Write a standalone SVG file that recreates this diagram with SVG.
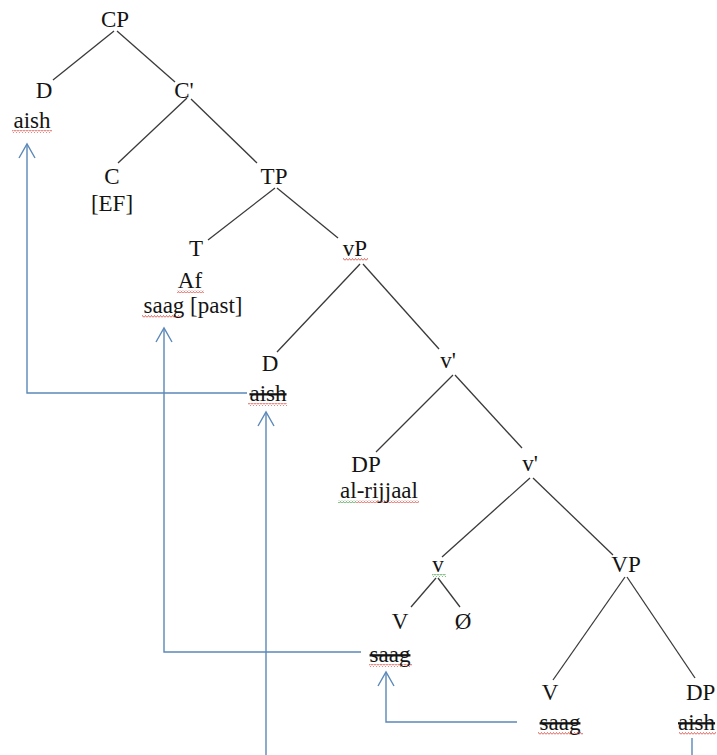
<svg xmlns="http://www.w3.org/2000/svg" width="717" height="755" viewBox="0 0 717 755">
<style>
text{font-family:'Liberation Serif','Times New Roman',serif;font-size:23px;fill:#141414;text-anchor:middle}
.st{text-decoration:line-through}
.edge{stroke:#3a3a3a;stroke-width:1.3;fill:none}
.move{stroke:#5b88b8;stroke-width:1.4;fill:none}
</style>
<defs>
<marker id="arr" viewBox="-16 -10 18 20" refX="0" refY="0" markerWidth="18" markerHeight="20" markerUnits="userSpaceOnUse" orient="auto">
<path d="M-14,-8 L0,0 L-14,8" fill="none" stroke="#5b88b8" stroke-width="1.4"/>
</marker>
<pattern id="sqR" x="0" y="0" width="3" height="3" patternUnits="userSpaceOnUse">
<path d="M0,2.5 L1.5,0.5 L3,2.5" fill="none" stroke="#d8433a" stroke-width="0.8"/>
</pattern>
<pattern id="sqG" x="0" y="0" width="3" height="3" patternUnits="userSpaceOnUse">
<path d="M0,2.5 L1.5,0.5 L3,2.5" fill="none" stroke="#3d9a3d" stroke-width="0.8"/>
</pattern>
</defs>
<rect width="717" height="755" fill="#ffffff"/>

<g id="edges">
<path class="edge" d="M114,31 L53,80"/>
<path class="edge" d="M117,31 L175,82"/>
<path class="edge" d="M187,98 L118,163"/>
<path class="edge" d="M191,99 L257,163"/>
<path class="edge" d="M275,188 L208,240"/>
<path class="edge" d="M277,188 L338,238"/>
<path class="edge" d="M360,264 L277,352"/>
<path class="edge" d="M363,264 L439,349"/>
<path class="edge" d="M453,375 L376,452"/>
<path class="edge" d="M455,375 L522,448"/>
<path class="edge" d="M530,478 L442,557"/>
<path class="edge" d="M533,478 L613,555"/>
<path class="edge" d="M436,578 L411,607"/>
<path class="edge" d="M438,578 L460,607"/>
<path class="edge" d="M625,577 L553,680"/>
<path class="edge" d="M627,577 L695,678"/>
</g>

<g id="movement">
<path class="move" d="M247,393 H27 V144" marker-end="url(#arr)"/>
<path class="move" d="M361,652 H164 V328" marker-end="url(#arr)"/>
<path class="move" d="M266,755 V412" marker-end="url(#arr)"/>
<path class="move" d="M517,722 H386 V672" marker-end="url(#arr)"/>
<path class="move" d="M692,738 V755"/>
</g>

<g id="squiggles">
<rect x="12" y="130" width="40" height="3" fill="url(#sqR)"/>
<rect x="177" y="290" width="27" height="3" fill="url(#sqR)"/>
<rect x="142" y="315" width="40" height="3" fill="url(#sqR)"/>
<rect x="343" y="258" width="25" height="3" fill="url(#sqR)"/>
<rect x="248" y="403" width="39" height="3" fill="url(#sqR)"/>
<rect x="338" y="500" width="18" height="3" fill="url(#sqG)"/>
<rect x="356" y="500" width="63" height="3" fill="url(#sqR)"/>
<rect x="432" y="574" width="14" height="3" fill="url(#sqG)"/>
<rect x="369" y="664" width="43" height="3" fill="url(#sqR)"/>
<rect x="538" y="732" width="45" height="3" fill="url(#sqR)"/>
<rect x="679" y="732" width="37" height="3" fill="url(#sqR)"/>
</g>

<g id="CP"><text x="115" y="27">CP</text></g>
<g id="D-spec"><text x="44" y="98">D</text><text x="32" y="128">aish</text></g>
<g id="Cbar"><text x="184" y="98">C'</text></g>
<g id="C"><text x="112" y="184">C</text><text x="112" y="211">[EF]</text></g>
<g id="TP"><text x="274" y="184">TP</text></g>
<g id="T"><text x="196" y="256">T</text><text x="190" y="288">Af</text><text x="193" y="313">saag [past]</text></g>
<g id="vP"><text x="355" y="256">vP</text></g>
<g id="D-vP"><text x="270" y="371">D</text><text x="268" y="401" class="st">aish</text></g>
<g id="vbar1"><text x="448" y="368">v'</text></g>
<g id="DP-subj"><text x="366" y="472">DP</text><text x="379" y="498">al-rijjaal</text></g>
<g id="vbar2"><text x="530" y="471">v'</text></g>
<g id="v"><text x="438" y="572">v</text></g>
<g id="VP"><text x="626" y="572">VP</text></g>
<g id="V-v"><text x="400" y="629">V</text><text x="390" y="662" class="st">saag</text></g>
<g id="null"><text x="463" y="629">Ø</text></g>
<g id="V-VP"><text x="550" y="700">V</text><text x="560" y="730" class="st">saag</text></g>
<g id="DP-obj"><text x="686" y="700" style="text-anchor:start">DP</text><text x="678" y="730" class="st" style="text-anchor:start">aish</text></g>
</svg>
